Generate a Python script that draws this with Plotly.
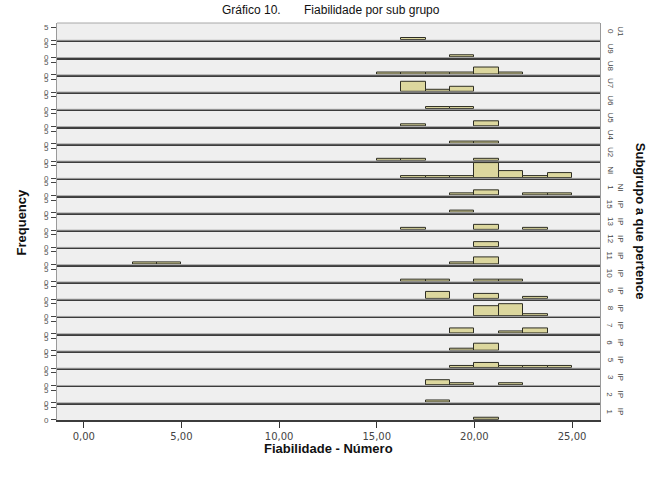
import plotly.graph_objects as go
from plotly.subplots import make_subplots

# ---------------- data ----------------
panel_labels = ["U1<br>0", "U9", "U8", "U7", "U6", "U5", "U4", "U2", "NI",
                "NI<br>1", "IP<br>15", "IP<br>13", "IP<br>12", "IP<br>11", "IP<br>10",
                "IP<br>9", "IP<br>8", "IP<br>7", "IP<br>6", "IP<br>5", "IP<br>3",
                "IP<br>2", "IP<br>1"]
bin_lower = [2.5, 3.75, 15.0, 16.25, 17.5, 18.75, 20.0, 21.25, 22.5, 23.75]
bin_width = 1.25
counts = [
    [0, 0, 0, 1, 0, 0, 0, 0, 0, 0],  # U10
    [0, 0, 0, 0, 0, 1, 0, 0, 0, 0],  # U9
    [0, 0, 1, 1, 1, 1, 3, 1, 0, 0],  # U8
    [0, 0, 0, 4, 1, 2, 0, 0, 0, 0],  # U7
    [0, 0, 0, 0, 1, 1, 0, 0, 0, 0],  # U6
    [0, 0, 0, 1, 0, 0, 2, 0, 0, 0],  # U5
    [0, 0, 0, 0, 0, 1, 1, 0, 0, 0],  # U4
    [0, 0, 1, 1, 0, 0, 1, 0, 0, 0],  # U2
    [0, 0, 0, 1, 1, 1, 6, 3, 1, 2],  # NI
    [0, 0, 0, 0, 0, 1, 2, 0, 1, 1],  # NI 1
    [0, 0, 0, 0, 0, 1, 0, 0, 0, 0],  # IP 15
    [0, 0, 0, 1, 0, 0, 2, 0, 1, 0],  # IP 13
    [0, 0, 0, 0, 0, 0, 2, 0, 0, 0],  # IP 12
    [1, 1, 0, 0, 0, 1, 3, 0, 0, 0],  # IP 11
    [0, 0, 0, 1, 1, 0, 1, 1, 0, 0],  # IP 10
    [0, 0, 0, 0, 3, 0, 2, 0, 1, 0],  # IP 9
    [0, 0, 0, 0, 0, 0, 4, 5, 1, 0],  # IP 8
    [0, 0, 0, 0, 0, 2, 0, 1, 2, 0],  # IP 7
    [0, 0, 0, 0, 0, 1, 3, 0, 0, 0],  # IP 6
    [0, 0, 0, 0, 0, 1, 2, 1, 1, 1],  # IP 5
    [0, 0, 0, 0, 2, 1, 0, 1, 0, 0],  # IP 3
    [0, 0, 0, 0, 1, 0, 0, 0, 0, 0],  # IP 2
    [0, 0, 0, 0, 0, 0, 1, 0, 0, 0],  # IP 1
]
x_ticks = [0, 5, 10, 15, 20, 25]
y_ticks = [0, 5]

# ---------------- figure ----------------
n = len(panel_labels)
fig = make_subplots(rows=n, cols=1, shared_xaxes=True, vertical_spacing=0)

for i, row in enumerate(counts):
    xs = [b + bin_width / 2 for b, c in zip(bin_lower, row) if c > 0]
    ys = [c for c in row if c > 0]
    fig.add_trace(go.Bar(x=xs, y=ys, width=bin_width,
                         marker=dict(color="#dcd79e",
                                     line=dict(color="#2e2e24", width=1)),
                         showlegend=False, hoverinfo="x+y"),
                  row=i + 1, col=1)

for i in range(n):
    last = (i == n - 1)
    fig.update_xaxes(range=[-1.37, 26.43], showgrid=False, zeroline=False,
                     showline=True, linecolor="#3c3c3c", linewidth=2,
                     ticks="outside" if last else "", ticklen=6, tickcolor="#333",
                     tickvals=x_ticks, tickformat=".2f",
                     showticklabels=last,
                     tickfont=dict(family="DejaVu Sans, Liberation Sans", size=10, color="#444"),
                     row=i + 1, col=1)
    fig.update_yaxes(range=[0, 6.8], showgrid=False, zeroline=False,
                     showline=True, mirror=True, linecolor="#9a9a9a", linewidth=1,
                     ticks="outside", ticklen=5, tickcolor="#444",
                     tickvals=y_ticks, tickangle=0, ticklabelstandoff=1,
                     tickfont=dict(family="Liberation Sans, Arial", size=8, color="#555"),
                     row=i + 1, col=1)

# right-side panel labels and top border of each panel
for i in range(n):
    yname = "yaxis" if i == 0 else f"yaxis{i + 1}"
    dom = fig.layout[yname].domain
    yc = (dom[0] + dom[1]) / 2
    fig.add_annotation(x=1.0, y=yc, xref="paper", yref="paper",
                       text=panel_labels[i], textangle=90, showarrow=False,
                       xanchor="left", yanchor="middle", xshift=4,
                       font=dict(family="Liberation Sans, Arial", size=8, color="#444"))
    fig.add_shape(type="line", xref="paper", yref="paper",
                  x0=0, x1=1, y0=dom[1], y1=dom[1],
                  line=dict(color="#a8a8a8", width=1))

fig.add_annotation(x=-0.082, y=0.5, xref="paper", yref="paper", text="<b>Frequency</b>",
                   textangle=-90, showarrow=False,
                   font=dict(family="Liberation Sans, Arial", size=13, color="#111"))
fig.add_annotation(x=1.075, y=0.5, xref="paper", yref="paper",
                   text="<b>Subgrupo a que pertence</b>", textangle=90, showarrow=False,
                   xanchor="center",
                   font=dict(family="Liberation Sans, Arial", size=13, color="#111"))
fig.add_annotation(x=0.5, y=-0.095, xref="paper", yref="paper",
                   text="<b>Fiabilidade - Número</b>", showarrow=False,
                   font=dict(family="Liberation Sans, Arial", size=13, color="#111"))
fig.add_annotation(x=0.505, y=1.0, xref="paper", yref="paper", yanchor="bottom", yshift=4,
                   text="Gráfico 10.\u00a0\u00a0\u00a0\u00a0\u00a0\u00a0\u00a0Fiabilidade por sub grupo",
                   showarrow=False,
                   font=dict(family="Liberation Sans Narrow, Arial Narrow, Liberation Sans", size=12, color="#111"))

fig.update_layout(width=664, height=481,
                  margin=dict(l=57, r=64, t=23, b=61),
                  plot_bgcolor="#efefef", paper_bgcolor="#ffffff",
                  separators=",.", bargap=0, showlegend=False)

fig.write_html("out.html")
